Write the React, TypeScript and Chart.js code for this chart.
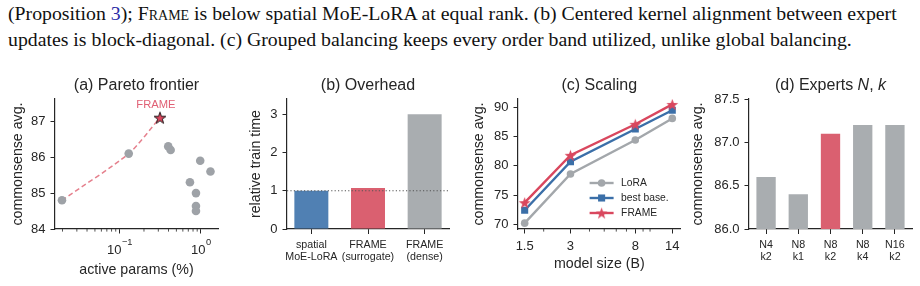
import React, { useEffect, useRef } from 'react';
import { Chart, registerables } from 'chart.js';
Chart.register(...registerables);

const SANS = '"Liberation Sans", Arial, Helvetica, sans-serif';
const SERIF = '"Liberation Serif", "Times New Roman", Times, serif';
const INK = '#262626';

const GRAY_PT = '#9ea2a7';
const GRAY_BAR = '#a9adb0';
const BLUE_BAR = '#5080b3';
const RED_BAR = '#da6070';
const LINE_GRAY = '#a3a7ab';
const LINE_BLUE = '#3b6fa8';
const LINE_RED = '#d9475e';
const PINK_DASH = '#e5808d';
const FRAME_TEXT = '#e06075';

// (a) Pareto frontier
const methodParams = [0.0197, 0.13, 0.397, 0.425, 0.733, 0.869, 0.869, 0.869, 0.98, 1.31];
const methodScores = [84.8, 86.1, 86.3, 86.2, 85.3, 85.0, 84.64, 84.5, 85.9, 85.6];
const frontierParams = [0.0197, 0.13, 0.314];
const frontierScores = [84.8, 86.1, 87.1];
const frameParams = 0.314;
const frameScore = 87.1;
const paretoYTicks = [84, 85, 86, 87];
const paretoXTicks = [0.1, 1];
const paretoXTickExp = ['\u22121', '0'];
const paretoXMinor = [0.02, 0.03, 0.04, 0.05, 0.06, 0.07, 0.08, 0.09, 0.2, 0.3, 0.4, 0.5, 0.6, 0.7, 0.8, 0.9];

// (b) Overhead
const overheadLabels = [['spatial', 'MoE-LoRA'], ['FRAME', '(surrogate)'], ['FRAME', '(dense)']];
const overheadValues = [1.0, 1.07, 3.0];
const overheadColors = [BLUE_BAR, RED_BAR, GRAY_BAR];
const overheadYTicks = [0, 1, 2, 3];
const overheadBaseline = 1;

// (c) Scaling
const modelSizes = [1.5, 3, 8, 14];
const loraScores = [70.2, 78.6, 84.4, 88.1];
const bestBaseScores = [72.4, 80.7, 86.3, 89.5];
const frameScores = [73.7, 81.8, 87.1, 90.5];
const scalingYTicks = [70, 75, 80, 85, 90];
const scalingXMinor = [2, 4, 5, 6, 7, 9, 10];

// (d) Experts N, k
const expertLabels = [['N4', 'k2'], ['N8', 'k1'], ['N8', 'k2'], ['N8', 'k4'], ['N16', 'k2']];
const expertScores = [86.6, 86.4, 87.1, 87.2, 87.2];
const expertHighlight = 2;
const expertYTicks = [86, 86.5, 87, 87.5];

function makeStar(size: number, R: number, fill: string, stroke: string | null, lw: number) {
  const c = document.createElement('canvas');
  c.width = size;
  c.height = size;
  const ctx = c.getContext('2d')!;
  const cx = size / 2;
  const cy = size / 2 + R * 0.1;
  const r = R * 0.4;
  ctx.beginPath();
  for (let i = 0; i < 10; i++) {
    const ang = -Math.PI / 2 + (i * Math.PI) / 5;
    const rad = i % 2 ? r : R;
    ctx.lineTo(cx + rad * Math.cos(ang), cy + rad * Math.sin(ang));
  }
  ctx.closePath();
  ctx.fillStyle = fill;
  ctx.fill();
  if (stroke) {
    ctx.lineWidth = lw;
    ctx.strokeStyle = stroke;
    ctx.lineJoin = 'miter';
    ctx.stroke();
  }
  return c;
}

const tickFont = { family: SANS, size: 13 };
const labelFont = { family: SANS, size: 14.2 };
const TITLE_SIZE = 16;

function gridOpts(len: number) {
  return { drawOnChartArea: false, drawTicks: true, tickLength: len, color: INK, tickColor: INK, tickWidth: 1 };
}
const borderOpts = { display: true, color: INK, width: 1.2 };

function fixedTicks(vals: number[]) {
  return (s: any) => {
    s.ticks = vals.map((v) => ({ value: v }));
  };
}

function yScale(min: number, max: number, ticks: number[], width: number, titlePad: number, title: string, fmt?: (v: number) => string) {
  return {
    type: 'linear',
    min,
    max,
    bounds: 'data',
    beginAtZero: false,
    afterBuildTicks: fixedTicks(ticks),
    afterFit: (s: any) => {
      s.width = width;
    },
    grid: gridOpts(4.5),
    border: borderOpts,
    ticks: { color: INK, font: tickFont, padding: 5, autoSkip: false, callback: fmt || ((v: any) => String(v)) },
    title: { display: true, text: title, color: INK, font: labelFont, padding: { top: titlePad, bottom: 0 } },
  };
}

function titlePlugin(parts: { text: string; italic?: boolean }[]) {
  return {
    id: 'panelTitle',
    afterDraw(chart: any) {
      const { ctx, chartArea: a } = chart;
      ctx.save();
      ctx.fillStyle = INK;
      ctx.textBaseline = 'middle';
      ctx.textAlign = 'left';
      const fonts = parts.map((p) => `${p.italic ? 'italic ' : ''}${TITLE_SIZE}px ${SANS}`);
      let total = 0;
      const widths = parts.map((p, i) => {
        ctx.font = fonts[i];
        const w = ctx.measureText(p.text).width;
        total += w;
        return w;
      });
      let x = (a.left + a.right) / 2 - total / 2;
      const y = a.top - 13;
      parts.forEach((p, i) => {
        ctx.font = fonts[i];
        ctx.fillText(p.text, x, y);
        x += widths[i];
      });
      ctx.restore();
    },
  };
}

function minorTicksPlugin(values: number[]) {
  return {
    id: 'minorTicks',
    afterDraw(chart: any) {
      const s = chart.scales.x;
      const { ctx, chartArea: a } = chart;
      ctx.save();
      ctx.strokeStyle = INK;
      ctx.lineWidth = 0.8;
      ctx.beginPath();
      values.forEach((v) => {
        const x = s.getPixelForValue(v);
        if (x < a.left - 0.5 || x > a.right + 0.5) return;
        ctx.moveTo(x, a.bottom);
        ctx.lineTo(x, a.bottom + 2.6);
      });
      ctx.stroke();
      ctx.restore();
    },
  };
}

const logLabelsPlugin = {
  id: 'logLabels',
  afterDraw(chart: any) {
    const s = chart.scales.x;
    const { ctx, chartArea: a } = chart;
    ctx.save();
    ctx.fillStyle = INK;
    ctx.textBaseline = 'middle';
    ctx.textAlign = 'left';
    paretoXTicks.forEach((v, i) => {
      const x = s.getPixelForValue(v);
      ctx.font = `13px ${SANS}`;
      const wb = ctx.measureText('10').width;
      ctx.font = `9.3px ${SANS}`;
      const we = ctx.measureText(paretoXTickExp[i]).width;
      const x0 = x - (wb + we) / 2;
      ctx.font = `13px ${SANS}`;
      ctx.fillText('10', x0, a.bottom + 21.3);
      ctx.font = `9.3px ${SANS}`;
      ctx.fillText(paretoXTickExp[i], x0 + wb + 0.5, a.bottom + 13.5);
    });
    ctx.restore();
  },
};

const frameNotePlugin = {
  id: 'frameNote',
  afterDraw(chart: any) {
    const { ctx } = chart;
    const x = chart.scales.x.getPixelForValue(frameParams);
    const y = chart.scales.y.getPixelForValue(frameScore);
    ctx.save();
    ctx.fillStyle = FRAME_TEXT;
    ctx.font = `11.2px ${SANS}`;
    ctx.textAlign = 'center';
    ctx.textBaseline = 'middle';
    ctx.fillText('FRAME', x - 4, y - 13);
    ctx.restore();
  },
};

const baselinePlugin = {
  id: 'baseline',
  afterDatasetsDraw(chart: any) {
    const { ctx, chartArea: a } = chart;
    const y = chart.scales.y.getPixelForValue(overheadBaseline);
    ctx.save();
    ctx.strokeStyle = '#555';
    ctx.lineWidth = 1;
    ctx.setLineDash([1.2, 2.2]);
    ctx.beginPath();
    ctx.moveTo(a.left, y);
    ctx.lineTo(a.right, y);
    ctx.stroke();
    ctx.restore();
  },
};

function drawLegendMarker(ctx: any, ds: any, x: number, y: number) {
  const st = ds.pointStyle;
  if (typeof st !== 'string') {
    ctx.drawImage(st, x - st.width / 2, y - st.height / 2);
    return;
  }
  ctx.fillStyle = ds.backgroundColor;
  if (st === 'rect') {
    const h = ds.pointRadius * Math.SQRT1_2;
    ctx.fillRect(x - h, y - h, 2 * h, 2 * h);
  } else {
    ctx.beginPath();
    ctx.arc(x, y, ds.pointRadius, 0, Math.PI * 2);
    ctx.fill();
  }
}

const innerLegendPlugin = {
  id: 'innerLegend',
  afterDraw(chart: any) {
    const { ctx, chartArea: a } = chart;
    const order = [2, 1, 0];
    const rows = [46, 31, 16];
    order.forEach((di, k) => {
      const ds = chart.data.datasets[di];
      const y = a.bottom - rows[k];
      const x0 = a.right - 91;
      const x1 = a.right - 67;
      ctx.save();
      ctx.strokeStyle = ds.borderColor;
      ctx.lineWidth = ds.borderWidth;
      ctx.beginPath();
      ctx.moveTo(x0, y);
      ctx.lineTo(x1, y);
      ctx.stroke();
      drawLegendMarker(ctx, ds, (x0 + x1) / 2, y);
      ctx.fillStyle = INK;
      ctx.font = `10.3px ${SANS}`;
      ctx.textAlign = 'left';
      ctx.textBaseline = 'middle';
      ctx.fillText(ds.label, a.right - 59.5, y);
      ctx.restore();
    });
  },
};

const common = {
  responsive: false,
  animation: false,
  events: [],
  devicePixelRatio: 1,
};
const noPlugins = { legend: { display: false }, tooltip: { enabled: false }, title: { display: false } };

function buildPareto() {
  const star = makeStar(16, 6.2, LINE_RED, '#111', 0.9);
  return {
    type: 'scatter',
    data: {
      datasets: [
        { label: 'FRAME', data: [{ x: frameParams, y: frameScore }], pointStyle: star, pointRadius: 7, showLine: false },
        {
          label: 'methods',
          data: methodParams.map((x, i) => ({ x, y: methodScores[i] })),
          pointRadius: 4.3,
          backgroundColor: GRAY_PT,
          borderWidth: 0,
          pointBorderWidth: 0,
          showLine: false,
        },
        {
          label: 'frontier',
          data: frontierParams.map((x, i) => ({ x, y: frontierScores[i] })),
          showLine: true,
          borderColor: PINK_DASH,
          borderWidth: 1.5,
          borderDash: [5, 3],
          pointRadius: 0,
          tension: 0.25,
        },
      ],
    },
    options: {
      ...common,
      layout: { padding: { left: 0, right: 12, top: 39, bottom: 0 } },
      plugins: noPlugins,
      scales: {
        x: {
          type: 'logarithmic',
          min: 0.01618,
          max: 1.62,
          bounds: 'data',
          afterBuildTicks: fixedTicks(paretoXTicks),
          afterFit: (s: any) => {
            s.height = 57;
          },
          grid: gridOpts(4.5),
          border: borderOpts,
          ticks: { display: false },
          title: { display: true, text: 'active params (%)', color: INK, font: labelFont, padding: { top: 0, bottom: 7.3 } },
        },
        y: yScale(84, 87.62, paretoYTicks, 55, 10, 'commonsense avg.'),
      },
    },
    plugins: [titlePlugin([{ text: '(a) Pareto frontier' }]), minorTicksPlugin(paretoXMinor), logLabelsPlugin, frameNotePlugin],
  };
}

function barXScale(min: number, max: number, count: number, labels: string[][]) {
  return {
    type: 'linear',
    min,
    max,
    bounds: 'data',
    offset: false,
    afterBuildTicks: fixedTicks(labels.map((_, i) => i).slice(0, count)),
    afterFit: (s: any) => {
      s.height = 57;
    },
    grid: { ...gridOpts(5), offset: false },
    border: borderOpts,
    ticks: {
      color: INK,
      font: { family: SANS, size: 10.7, lineHeight: 1.1 },
      padding: 5.5,
      autoSkip: false,
      maxRotation: 0,
      callback: (v: any) => labels[Math.round(v)] || '',
    },
  };
}

function buildOverhead() {
  return {
    type: 'bar',
    data: {
      datasets: [
        {
          data: overheadValues.map((y, i) => ({ x: i, y })),
          backgroundColor: overheadColors,
          borderWidth: 0,
          barPercentage: 0.6,
          categoryPercentage: 1,
        },
      ],
    },
    options: {
      ...common,
      layout: { padding: { left: 0, right: 11, top: 39, bottom: 0 } },
      plugins: noPlugins,
      scales: {
        x: barXScale(-0.43, 2.43, overheadLabels.length, overheadLabels),
        y: yScale(0, 3.4, overheadYTicks, 57, 17.4, 'relative train time'),
      },
    },
    plugins: [titlePlugin([{ text: '(b) Overhead' }]), baselinePlugin],
  };
}

function buildScaling() {
  const star = makeStar(15, 6.2, LINE_RED, null, 0);
  return {
    type: 'scatter',
    data: {
      datasets: [
        {
          label: 'FRAME',
          data: modelSizes.map((x, i) => ({ x, y: frameScores[i] })),
          showLine: true,
          borderColor: LINE_RED,
          backgroundColor: LINE_RED,
          borderWidth: 2.4,
          pointStyle: star,
          pointRadius: 7,
        },
        {
          label: 'best base.',
          data: modelSizes.map((x, i) => ({ x, y: bestBaseScores[i] })),
          showLine: true,
          borderColor: LINE_BLUE,
          backgroundColor: LINE_BLUE,
          borderWidth: 2.4,
          pointStyle: 'rect',
          pointRadius: 5,
          pointBorderWidth: 0,
        },
        {
          label: 'LoRA',
          data: modelSizes.map((x, i) => ({ x, y: loraScores[i] })),
          showLine: true,
          borderColor: LINE_GRAY,
          backgroundColor: LINE_GRAY,
          borderWidth: 2.4,
          pointStyle: 'circle',
          pointRadius: 3.8,
          pointBorderWidth: 0,
        },
      ],
    },
    options: {
      ...common,
      layout: { padding: { left: 0, right: 9, top: 39, bottom: 0 } },
      plugins: noPlugins,
      scales: {
        x: {
          type: 'logarithmic',
          min: 1.356,
          max: 15.88,
          bounds: 'data',
          afterBuildTicks: fixedTicks(modelSizes),
          afterFit: (s: any) => {
            s.height = 57;
          },
          grid: gridOpts(4.5),
          border: borderOpts,
          ticks: { color: INK, font: tickFont, padding: 5, autoSkip: false, maxRotation: 0, callback: (v: any) => String(v) },
          title: { display: true, text: 'model size (B)', color: INK, font: labelFont, padding: { top: 0, bottom: 13.4 } },
        },
        y: yScale(69.2, 91.42, scalingYTicks, 58, 10.6, 'commonsense avg.'),
      },
    },
    plugins: [titlePlugin([{ text: '(c) Scaling' }]), minorTicksPlugin(scalingXMinor), innerLegendPlugin],
  };
}

function buildExperts() {
  return {
    type: 'bar',
    data: {
      datasets: [
        {
          data: expertScores.map((y, i) => ({ x: i, y })),
          backgroundColor: expertScores.map((_, i) => (i === expertHighlight ? RED_BAR : GRAY_BAR)),
          borderWidth: 0,
          barPercentage: 0.6,
          categoryPercentage: 1,
        },
      ],
    },
    options: {
      ...common,
      layout: { padding: { left: 0, right: 8, top: 39, bottom: 0 } },
      plugins: noPlugins,
      scales: {
        x: barXScale(-0.53, 4.53, expertLabels.length, expertLabels),
        y: yScale(86, 87.5, expertYTicks, 59, 0, 'commonsense avg.', (v: any) => Number(v).toFixed(1)),
      },
    },
    plugins: [titlePlugin([{ text: '(d) Experts ' }, { text: 'N', italic: true }, { text: ', ' }, { text: 'k', italic: true }])],
  };
}

function ChartBox({ left, width, build }: { left: number; width: number; build: () => any }) {
  const ref = useRef<HTMLCanvasElement | null>(null);
  useEffect(() => {
    const chart = new Chart(ref.current as HTMLCanvasElement, build());
    return () => chart.destroy();
  }, []);
  return (
    <canvas
      ref={ref}
      width={width}
      height={226}
      style={{ position: 'absolute', left, top: 60, width, height: 226, display: 'block' }}
    />
  );
}

export default function App() {
  return (
    <div style={{ position: 'fixed', left: 0, top: 0, width: 920, height: 286, background: '#fff', overflow: 'hidden' }}>
      <div
        style={{
          position: 'absolute',
          left: 8,
          top: 0,
          fontFamily: SERIF,
          fontSize: 19.8,
          lineHeight: '26px',
          whiteSpace: 'nowrap',
          color: '#111',
        }}
      >
        <div>
          (Proposition <span style={{ color: '#2b2ba6' }}>3</span>); <span style={{ fontVariant: 'small-caps' }}>Frame</span> is below
          spatial MoE-LoRA at equal rank. (b) Centered kernel alignment between expert
        </div>
        <div>updates is block-diagonal. (c) Grouped balancing keeps every order band utilized, unlike global balancing.</div>
      </div>
      <ChartBox left={0} width={230} build={buildPareto} />
      <ChartBox left={230} width={230} build={buildOverhead} />
      <ChartBox left={460} width={230} build={buildScaling} />
      <ChartBox left={690} width={230} build={buildExperts} />
    </div>
  );
}
